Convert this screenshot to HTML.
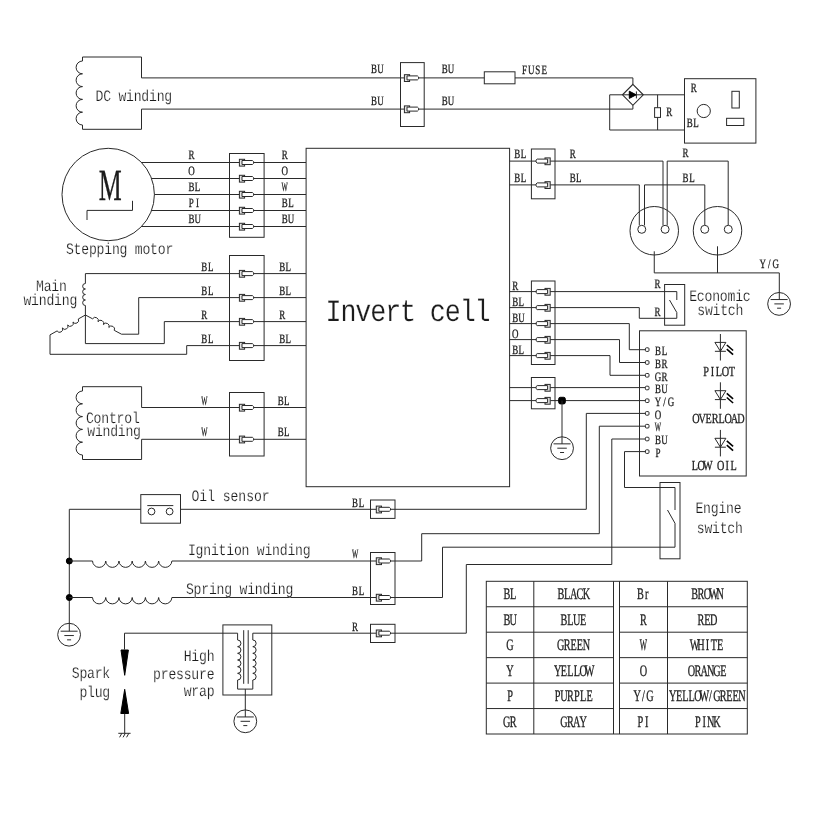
<!DOCTYPE html>
<html lang="en">
<head>
<meta charset="utf-8">
<title>Wiring diagram</title>
<style>
html,body{margin:0;padding:0;background:#fff;}
body{width:828px;height:828px;overflow:hidden;}
svg{display:block;will-change:transform;}
svg path,svg rect,svg circle{fill:none;stroke:#2a2a2a;stroke-width:1;}
svg .fill{fill:#000;stroke:#000;}
svg text{font-family:"Liberation Serif",serif;fill:#1c1c1c;text-anchor:middle;stroke:#1c1c1c;stroke-width:0.3px;text-rendering:geometricPrecision;}
svg text.m{font-family:"Liberation Mono",monospace;stroke:#fff;stroke-width:0.2px;}
</style>
</head>
<body>
<svg width="828" height="828" viewBox="0 0 828 828">
<rect x="0" y="0" width="828" height="828" style="fill:#fff;stroke:none"/>
<path d="M82.5,61V57H141.5V77.9H404.5" />
<path d="M82.5,125V129.3H141.5V109.1H404.5" />
<path d="M82.5,61a6.4,6.4 0 0 0 0,12.8a6.4,6.4 0 0 0 0,12.8a6.4,6.4 0 0 0 0,12.8a6.4,6.4 0 0 0 0,12.8a6.4,6.4 0 0 0 0,12.8" />
<text class="m" transform="scale(0.82,1)" x="121.25 130.58 139.9 149.23 158.56 167.89 177.22 186.55 195.88 205.21" y="101" font-size="16">DC winding</text>
<text transform="scale(0.7,1)" x="534.46 543.39" y="73.15" font-size="12.8">BU</text>
<text transform="scale(0.7,1)" x="534.46 543.39" y="105.15" font-size="12.8">BU</text>
<rect x="400.5" y="62.6" width="23.7" height="63.9" />
<g transform="translate(404.4,77.9)">
<rect x="0" y="-3.2" width="5.2" height="6.8" style="fill:#e4e4e4"/>
<path d="M2.6,-2H13L14.2,-0.9V0.9L13,2H2.6Z" style="fill:#fff"/>
</g>
<g transform="translate(404.4,109.1)">
<rect x="0" y="-3.2" width="5.2" height="6.8" style="fill:#e4e4e4"/>
<path d="M2.6,-2H13L14.2,-0.9V0.9L13,2H2.6Z" style="fill:#fff"/>
</g>
<path d="M418.5,77.9H484.3M515,77.9H632.9V84.3" />
<path d="M418.5,109.1H632.9V105.3" />
<rect x="484.3" y="71.8" width="30.7" height="12" />
<text transform="scale(0.7,1)" x="635.18 644.11" y="73.15" font-size="12.8">BU</text>
<text transform="scale(0.7,1)" x="635.18 644.11" y="105.15" font-size="12.8">BU</text>
<text transform="scale(0.7,1)" x="749.32 758.75 768.17 777.6" y="73.9" font-size="12.8">FUSE</text>
<path d="M632.9,84.3L643.3,94.8L632.9,105.3L622.5,94.8Z" style="stroke-width:1.15"/>
<path d="M623,94.8H643" />
<path d="M629.3,91.2L636.2,94.8L629.3,98.4Z" class="fill"/>
<path d="M636.4,91.4V98.4" />
<path d="M622.5,94.8H609.7V130H684.5" />
<path d="M643.3,94.8H684.5" />
<path d="M657.6,94.8V107.7M657.6,117.4V130" />
<rect x="654.6" y="107.7" width="5.9" height="9.7" />
<text transform="scale(0.7,1)" x="955.89" y="116.45" font-size="12.8">R</text>
<rect x="684.5" y="78.7" width="71.4" height="64.4" />
<text transform="scale(0.7,1)" x="991.18" y="92.25" font-size="12.8">R</text>
<text transform="scale(0.7,1)" x="985.18 994.11" y="127.45" font-size="12.8">BL</text>
<circle cx="703.75" cy="111" r="6.6" />
<rect x="731.9" y="91.3" width="7.4" height="16.7" />
<rect x="726.6" y="118.3" width="17.2" height="7.2" />
<circle cx="108.2" cy="194.5" r="46.2" />
<text transform="scale(0.58,1)" x="190.09" y="200" font-size="44.5">M</text>
<path d="M87,220V210.4H132.5V200.8" />
<path d="M141.52,162.5H239.5M253.7,162.5H306" />
<g transform="translate(239.4,162.5)">
<rect x="0" y="-3.2" width="5.2" height="6.8" style="fill:#e4e4e4"/>
<path d="M2.6,-2H13L14.2,-0.9V0.9L13,2H2.6Z" style="fill:#fff"/>
</g>
<text transform="scale(0.7,1)" x="273.39" y="159.15" font-size="12.8">R</text>
<text transform="scale(0.7,1)" x="406.61" y="159.15" font-size="12.8">R</text>
<path d="M151.54,178.5H239.5M253.7,178.5H306" />
<g transform="translate(239.4,178.5)">
<rect x="0" y="-3.2" width="5.2" height="6.8" style="fill:#e4e4e4"/>
<path d="M2.6,-2H13L14.2,-0.9V0.9L13,2H2.6Z" style="fill:#fff"/>
</g>
<text transform="scale(0.7,1)" x="273.39" y="175.15" font-size="12.8">O</text>
<text transform="scale(0.7,1)" x="406.61" y="175.15" font-size="12.8">O</text>
<path d="M154.4,194.5H239.5M253.7,194.5H306" />
<g transform="translate(239.4,194.5)">
<rect x="0" y="-3.2" width="5.2" height="6.8" style="fill:#e4e4e4"/>
<path d="M2.6,-2H13L14.2,-0.9V0.9L13,2H2.6Z" style="fill:#fff"/>
</g>
<text transform="scale(0.7,1)" x="273.39 282.32" y="191.15" font-size="12.8">BL</text>
<text transform="scale(0.52,1)" x="547.36" y="191.15" font-size="12.8">W</text>
<path d="M151.54,210.5H239.5M253.7,210.5H306" />
<g transform="translate(239.4,210.5)">
<rect x="0" y="-3.2" width="5.2" height="6.8" style="fill:#e4e4e4"/>
<path d="M2.6,-2H13L14.2,-0.9V0.9L13,2H2.6Z" style="fill:#fff"/>
</g>
<text transform="scale(0.7,1)" x="273.39 282.32" y="207.15" font-size="12.8">PI</text>
<text transform="scale(0.7,1)" x="406.61 415.54" y="207.15" font-size="12.8">BL</text>
<path d="M141.52,226.5H239.5M253.7,226.5H306" />
<g transform="translate(239.4,226.5)">
<rect x="0" y="-3.2" width="5.2" height="6.8" style="fill:#e4e4e4"/>
<path d="M2.6,-2H13L14.2,-0.9V0.9L13,2H2.6Z" style="fill:#fff"/>
</g>
<text transform="scale(0.7,1)" x="273.39 282.32" y="223.15" font-size="12.8">BU</text>
<text transform="scale(0.7,1)" x="406.61 415.54" y="223.15" font-size="12.8">BU</text>
<rect x="229.5" y="153.5" width="34.6" height="83.8" />
<text class="m" transform="scale(0.82,1)" x="85.27 94.6 103.93 113.26 122.59 131.92 141.25 150.58 159.9 169.23 178.56 187.89 197.22 206.55" y="254.25" font-size="16">Stepping motor</text>
<rect x="306.1" y="148.3" width="203.5" height="338.4" />
<text class="m" transform="scale(0.86,1)" x="387.85 405.18 422.5 439.83 457.15 474.48 491.8 509.13 526.46 543.78 561.11" y="320.8" font-size="31">Invert cell</text>
<path d="M85.4,283.5V273.6H239.5M253.7,273.6H306" />
<path d="M85.4,283.5a2.75,2.75 0 0 0 0,5.5a2.75,2.75 0 0 0 0,5.5a2.75,2.75 0 0 0 0,5.5a2.75,2.75 0 0 0 0,5.5" />
<path d="M85.4,305.5V343.6H164.3V321.6H239.5M253.7,321.6H306" />
<path d="M85.4,315L92.62,318.84" />
<path d="M92.62,318.84a3.07,3.07 0 0 1 5.41,2.88a3.07,3.07 0 0 1 5.41,2.88a3.07,3.07 0 0 1 5.41,2.88a3.07,3.07 0 0 1 5.41,2.88" />
<path d="M114.28,330.36L121.5,334.2H138.7V297.6H239.5M253.7,297.6H306" />
<path d="M85.4,315L78.32,318.98" />
<path d="M78.32,318.98a3.05,3.05 0 0 1 -5.31,2.98a3.05,3.05 0 0 1 -5.31,2.98a3.05,3.05 0 0 1 -5.31,2.98a3.05,3.05 0 0 1 -5.31,2.98" />
<path d="M57.08,330.92L50,334.9V354.3H186.7V345.6H239.5M253.7,345.6H306" />
<rect x="229.5" y="255.5" width="34.6" height="105" />
<g transform="translate(239.4,273.6)">
<rect x="0" y="-3.2" width="5.2" height="6.8" style="fill:#e4e4e4"/>
<path d="M2.6,-2H13L14.2,-0.9V0.9L13,2H2.6Z" style="fill:#fff"/>
</g>
<text transform="scale(0.7,1)" x="291.96 300.89" y="270.75" font-size="12.8">BL</text>
<text transform="scale(0.7,1)" x="403.04 411.96" y="270.75" font-size="12.8">BL</text>
<g transform="translate(239.4,297.6)">
<rect x="0" y="-3.2" width="5.2" height="6.8" style="fill:#e4e4e4"/>
<path d="M2.6,-2H13L14.2,-0.9V0.9L13,2H2.6Z" style="fill:#fff"/>
</g>
<text transform="scale(0.7,1)" x="291.96 300.89" y="294.75" font-size="12.8">BL</text>
<text transform="scale(0.7,1)" x="403.04 411.96" y="294.75" font-size="12.8">BL</text>
<g transform="translate(239.4,321.6)">
<rect x="0" y="-3.2" width="5.2" height="6.8" style="fill:#e4e4e4"/>
<path d="M2.6,-2H13L14.2,-0.9V0.9L13,2H2.6Z" style="fill:#fff"/>
</g>
<text transform="scale(0.7,1)" x="291.96" y="318.75" font-size="12.8">R</text>
<text transform="scale(0.7,1)" x="403.04" y="318.75" font-size="12.8">R</text>
<g transform="translate(239.4,345.6)">
<rect x="0" y="-3.2" width="5.2" height="6.8" style="fill:#e4e4e4"/>
<path d="M2.6,-2H13L14.2,-0.9V0.9L13,2H2.6Z" style="fill:#fff"/>
</g>
<text transform="scale(0.7,1)" x="291.96 300.89" y="342.75" font-size="12.8">BL</text>
<text transform="scale(0.7,1)" x="403.04 411.96" y="342.75" font-size="12.8">BL</text>
<text class="m" transform="scale(0.82,1)" x="48.69 58.01 67.34 76.67" y="291.25" font-size="16">Main</text>
<text class="m" transform="scale(0.82,1)" x="33.44 42.77 52.1 61.43 70.76 80.09 89.42" y="305" font-size="16">winding</text>
<path d="M82.5,391V386.7H141.6V407.5H239.5M253.7,407.5H306" />
<path d="M82.5,455V459.5H141.6V439.3H239.5M253.7,439.3H306" />
<path d="M82.5,391a6.4,6.4 0 0 0 0,12.8a6.4,6.4 0 0 0 0,12.8a6.4,6.4 0 0 0 0,12.8a6.4,6.4 0 0 0 0,12.8a6.4,6.4 0 0 0 0,12.8" />
<rect x="229.5" y="392.5" width="34.6" height="63.5" />
<g transform="translate(239.4,407.5)">
<rect x="0" y="-3.2" width="5.2" height="6.8" style="fill:#e4e4e4"/>
<path d="M2.6,-2H13L14.2,-0.9V0.9L13,2H2.6Z" style="fill:#fff"/>
</g>
<text transform="scale(0.52,1)" x="393.03" y="404.65" font-size="12.8">W</text>
<text transform="scale(0.7,1)" x="400.89 409.82" y="404.65" font-size="12.8">BL</text>
<g transform="translate(239.4,439.3)">
<rect x="0" y="-3.2" width="5.2" height="6.8" style="fill:#e4e4e4"/>
<path d="M2.6,-2H13L14.2,-0.9V0.9L13,2H2.6Z" style="fill:#fff"/>
</g>
<text transform="scale(0.52,1)" x="393.03" y="436.45" font-size="12.8">W</text>
<text transform="scale(0.7,1)" x="400.89 409.82" y="436.45" font-size="12.8">BL</text>
<text class="m" transform="scale(0.82,1)" x="109.66 118.99 128.32 137.65 146.98 156.31 165.64" y="423.2" font-size="16">Control</text>
<text class="m" transform="scale(0.82,1)" x="111.19 120.51 129.84 139.17 148.5 157.83 167.16" y="436.3" font-size="16">winding</text>
<path d="M69.3,631.2V509.3H140.8M180.5,509.3H376.3M390.5,509.3H586.3V413.4H645.6" />
<rect x="140.8" y="494.6" width="39.7" height="28.6" />
<path d="M147.3,505.6H173.3" />
<circle cx="151.5" cy="511.5" r="3.4" />
<circle cx="169.6" cy="511.5" r="3.4" />
<text class="m" transform="scale(0.82,1)" x="238.41 247.92 257.43 266.94 276.46 285.97 295.48 304.99 314.5 324.02" y="501" font-size="16">Oil sensor</text>
<text transform="scale(0.7,1)" x="507.32 516.25" y="506.95" font-size="12.8">BL</text>
<rect x="370.5" y="500" width="24.5" height="18.4" />
<g transform="translate(376.3,509.3)">
<rect x="0" y="-3.2" width="5.2" height="6.8" style="fill:#e4e4e4"/>
<path d="M2.6,-2H13L14.2,-0.9V0.9L13,2H2.6Z" style="fill:#fff"/>
</g>
<circle cx="69.3" cy="561" r="3" class="fill"/>
<circle cx="69.3" cy="597.5" r="3" class="fill"/>
<path d="M69.3,561H92.5M171.9,561H376.3M390.5,561H421.7V533.7H599.3V426.2H645.6" />
<path d="M92.5,561a6.62,6.62 0 0 0 13.23,0a6.62,6.62 0 0 0 13.23,0a6.62,6.62 0 0 0 13.23,0a6.62,6.62 0 0 0 13.23,0a6.62,6.62 0 0 0 13.23,0a6.62,6.62 0 0 0 13.23,0" />
<path d="M69.3,597.5H92.5M171.9,597.5H376.3M390.5,597.5H442.5V547.2H675V523.3" />
<path d="M92.5,597.5a6.62,6.62 0 0 0 13.23,0a6.62,6.62 0 0 0 13.23,0a6.62,6.62 0 0 0 13.23,0a6.62,6.62 0 0 0 13.23,0a6.62,6.62 0 0 0 13.23,0a6.62,6.62 0 0 0 13.23,0" />
<text class="m" transform="scale(0.82,1)" x="234.05 243.38 252.71 262.04 271.37 280.7 290.03 299.36 308.69 318.01 327.34 336.67 346 355.33 364.66 373.99" y="555" font-size="16">Ignition winding</text>
<text class="m" transform="scale(0.82,1)" x="231.61 240.94 250.27 259.6 268.93 278.26 287.59 296.92 306.25 315.58 324.9 334.23 343.56 352.89" y="594.25" font-size="16">Spring winding</text>
<text transform="scale(0.52,1)" x="682.93" y="558.4" font-size="12.8">W</text>
<text transform="scale(0.7,1)" x="507.32 516.25" y="594.65" font-size="12.8">BL</text>
<rect x="370.5" y="552.5" width="24.5" height="52" />
<g transform="translate(376.3,561)">
<rect x="0" y="-3.2" width="5.2" height="6.8" style="fill:#e4e4e4"/>
<path d="M2.6,-2H13L14.2,-0.9V0.9L13,2H2.6Z" style="fill:#fff"/>
</g>
<g transform="translate(376.3,597.5)">
<rect x="0" y="-3.2" width="5.2" height="6.8" style="fill:#e4e4e4"/>
<path d="M2.6,-2H13L14.2,-0.9V0.9L13,2H2.6Z" style="fill:#fff"/>
</g>
<circle cx="69.1" cy="634.7" r="11.4" />
<path d="M60.6,631.2L77.6,631.2" />
<path d="M64.35,635.55L73.85,635.55" />
<path d="M67.1,639.85L71.1,639.85" />
<path d="M124.5,649.5V633.2H237.6V640" />
<path d="M252.8,640V633.2H376.3M390.5,633.2H466.3V564.5H611.8V439H645.6" />
<rect x="370.5" y="624.3" width="24.5" height="18.2" />
<g transform="translate(376.3,633.2)">
<rect x="0" y="-3.2" width="5.2" height="6.8" style="fill:#e4e4e4"/>
<path d="M2.6,-2H13L14.2,-0.9V0.9L13,2H2.6Z" style="fill:#fff"/>
</g>
<text transform="scale(0.7,1)" x="507.32" y="630.9" font-size="12.8">R</text>
<path d="M121,650H128.4L124.7,675.3Z" class="fill"/>
<path d="M124.7,689.3L128.6,713.5H120.8Z" class="fill"/>
<path d="M124.7,713.7V733.3M118.3,733.3H130.6M121.8,733.3L119.6,737.3M125.3,733.3L123.1,737.3M128.8,733.3L126.6,737.3" />
<text class="m" transform="scale(0.82,1)" x="92.29 101.62 110.95 120.27 129.6" y="678" font-size="16">Spark</text>
<text class="m" transform="scale(0.82,1)" x="101.62 110.95 120.27 129.6" y="696.75" font-size="16">plug</text>
<rect x="222.9" y="624.9" width="48.9" height="70.1" />
<path d="M237.6,640a3.33,3.33 0 0 1 0,6.67a3.33,3.33 0 0 1 0,6.67a3.33,3.33 0 0 1 0,6.67a3.33,3.33 0 0 1 0,6.67a3.33,3.33 0 0 1 0,6.67a3.33,3.33 0 0 1 0,6.67" />
<path d="M252.8,640a3.33,3.33 0 0 1 0,6.67a3.33,3.33 0 0 1 0,6.67a3.33,3.33 0 0 1 0,6.67a3.33,3.33 0 0 1 0,6.67a3.33,3.33 0 0 1 0,6.67a3.33,3.33 0 0 1 0,6.67" />
<path d="M237.6,680V689.1H252.8V680" />
<path d="M243.7,630.2V683.8M248.2,630.2V683.8" />
<path d="M245.3,689.1V717" />
<circle cx="245.3" cy="721.3" r="11.4" />
<path d="M236.8,716.95L253.8,716.95" />
<path d="M240.55,721.3L250.05,721.3" />
<path d="M243.3,725.6L247.3,725.6" />
<text class="m" transform="scale(0.82,1)" x="228.81 238.14 247.47 256.8" y="661.1" font-size="16">High</text>
<text class="m" transform="scale(0.82,1)" x="191.49 200.82 210.15 219.48 228.81 238.14 247.47 256.8" y="678.7" font-size="16">pressure</text>
<text class="m" transform="scale(0.82,1)" x="228.81 238.14 247.47 256.8" y="696.1" font-size="16">wrap</text>
<rect x="531.4" y="149" width="23.6" height="49.8" />
<path d="M509.6,161.1H536.6M550.2,161.1H663V225.3M667.2,225.3V161.1H728.2V225" />
<path d="M509.6,184.9H536.6M550.2,184.9H639.3V225.3M644.5,225.3V184.9H704.8V225" />
<g transform="translate(550.2,161.1) scale(-1,1)">
<rect x="0" y="-3.2" width="5.2" height="6.8" style="fill:#e4e4e4"/>
<path d="M2.6,-2H13L14.2,-0.9V0.9L13,2H2.6Z" style="fill:#fff"/>
</g>
<g transform="translate(550.2,184.9) scale(-1,1)">
<rect x="0" y="-3.2" width="5.2" height="6.8" style="fill:#e4e4e4"/>
<path d="M2.6,-2H13L14.2,-0.9V0.9L13,2H2.6Z" style="fill:#fff"/>
</g>
<text transform="scale(0.7,1)" x="738.75 747.68" y="157.65" font-size="12.8">BL</text>
<text transform="scale(0.7,1)" x="738.75 747.68" y="181.65" font-size="12.8">BL</text>
<text transform="scale(0.7,1)" x="818.04" y="157.65" font-size="12.8">R</text>
<text transform="scale(0.7,1)" x="818.04 826.96" y="181.65" font-size="12.8">BL</text>
<text transform="scale(0.7,1)" x="979.46" y="157.25" font-size="12.8">R</text>
<text transform="scale(0.7,1)" x="979.46 988.39" y="181.65" font-size="12.8">BL</text>
<circle cx="654.25" cy="230.75" r="24.25" />
<circle cx="717.5" cy="230.75" r="24.25" />
<circle cx="641.75" cy="229.3" r="4" />
<circle cx="665.1" cy="229.3" r="4" />
<circle cx="704.75" cy="229.3" r="4" />
<circle cx="728.25" cy="229.3" r="4" />
<path d="M654.25,251.3V272.9H779.3V299.5M717.5,246.3V272.9" />
<text transform="scale(0.7,1)" x="1089.61 1098.9 1108.19" y="267.65" font-size="12.8">Y/G</text>
<circle cx="779.1" cy="303.9" r="11.4" />
<path d="M770.6,299.55L787.6,299.55" />
<path d="M774.35,303.9L783.85,303.9" />
<path d="M777.1,308.2L781.1,308.2" />
<rect x="531.4" y="281" width="23.6" height="83.5" />
<g transform="translate(550.2,291.6) scale(-1,1)">
<rect x="0" y="-3.2" width="5.2" height="6.8" style="fill:#e4e4e4"/>
<path d="M2.6,-2H13L14.2,-0.9V0.9L13,2H2.6Z" style="fill:#fff"/>
</g>
<text transform="scale(0.7,1)" x="735.89" y="289.75" font-size="12.8">R</text>
<g transform="translate(550.2,307.6) scale(-1,1)">
<rect x="0" y="-3.2" width="5.2" height="6.8" style="fill:#e4e4e4"/>
<path d="M2.6,-2H13L14.2,-0.9V0.9L13,2H2.6Z" style="fill:#fff"/>
</g>
<text transform="scale(0.7,1)" x="735.89 744.82" y="305.75" font-size="12.8">BL</text>
<g transform="translate(550.2,323.6) scale(-1,1)">
<rect x="0" y="-3.2" width="5.2" height="6.8" style="fill:#e4e4e4"/>
<path d="M2.6,-2H13L14.2,-0.9V0.9L13,2H2.6Z" style="fill:#fff"/>
</g>
<text transform="scale(0.7,1)" x="735.89 744.82" y="321.75" font-size="12.8">BU</text>
<g transform="translate(550.2,339.6) scale(-1,1)">
<rect x="0" y="-3.2" width="5.2" height="6.8" style="fill:#e4e4e4"/>
<path d="M2.6,-2H13L14.2,-0.9V0.9L13,2H2.6Z" style="fill:#fff"/>
</g>
<text transform="scale(0.7,1)" x="735.89" y="337.75" font-size="12.8">O</text>
<g transform="translate(550.2,355.6) scale(-1,1)">
<rect x="0" y="-3.2" width="5.2" height="6.8" style="fill:#e4e4e4"/>
<path d="M2.6,-2H13L14.2,-0.9V0.9L13,2H2.6Z" style="fill:#fff"/>
</g>
<text transform="scale(0.7,1)" x="735.89 744.82" y="353.75" font-size="12.8">BL</text>
<path d="M509.6,291.6H536.6M550.2,291.6H676.8V300" />
<path d="M669.5,300L676.8,312.5V318.3H639.3V307.6H550.2M536.6,307.6H509.6" />
<path d="M509.6,323.6H536.6M550.2,323.6H629.3V349.7H645.6" />
<path d="M509.6,339.6H536.6M550.2,339.6H619.5V362.5H645.6" />
<path d="M509.6,355.6H536.6M550.2,355.6H610V375.3H645.6" />
<rect x="664.6" y="284.5" width="20.1" height="40.7" />
<text transform="scale(0.7,1)" x="939.46" y="288.4" font-size="12.8">R</text>
<text transform="scale(0.7,1)" x="939.46" y="315.9" font-size="12.8">R</text>
<text class="m" transform="scale(0.82,1)" x="845.33 854.66 863.99 873.32 882.65 891.98 901.31 910.64" y="301.25" font-size="16">Economic</text>
<text class="m" transform="scale(0.82,1)" x="855.09 864.42 873.75 883.08 892.4 901.73" y="314.7" font-size="16">switch</text>
<rect x="531.4" y="377.5" width="23.6" height="31.3" />
<path d="M509.6,387.6H536.6M550.2,387.6H645.6" />
<path d="M509.6,400.6H536.6M550.2,400.6H645.6" />
<g transform="translate(550.2,387.6) scale(-1,1)">
<rect x="0" y="-3.2" width="5.2" height="6.8" style="fill:#e4e4e4"/>
<path d="M2.6,-2H13L14.2,-0.9V0.9L13,2H2.6Z" style="fill:#fff"/>
</g>
<g transform="translate(550.2,400.6) scale(-1,1)">
<rect x="0" y="-3.2" width="5.2" height="6.8" style="fill:#e4e4e4"/>
<path d="M2.6,-2H13L14.2,-0.9V0.9L13,2H2.6Z" style="fill:#fff"/>
</g>
<rect x="558.7" y="397.3" width="6.6" height="6.6" rx="1.6" class="fill"/>
<path d="M562,400.6V443.9" />
<circle cx="562.05" cy="448.2" r="11.4" />
<path d="M553.55,443.85L570.55,443.85" />
<path d="M557.3,448.2L566.8,448.2" />
<path d="M560.05,452.5L564.05,452.5" />
<rect x="639.5" y="330.8" width="106.7" height="145.2" />
<rect x="645.4" y="347.8" width="3.6" height="3.6" rx="1" style="fill:#fff"/>
<text transform="scale(0.7,1)" x="940.01 949.23" y="354.55" font-size="12.8">BL</text>
<rect x="645.4" y="360.7" width="3.6" height="3.6" rx="1" style="fill:#fff"/>
<text transform="scale(0.7,1)" x="940.01 949.23" y="367.75" font-size="12.8">BR</text>
<rect x="645.4" y="373.5" width="3.6" height="3.6" rx="1" style="fill:#fff"/>
<text transform="scale(0.7,1)" x="940.01 949.23" y="380.55" font-size="12.8">GR</text>
<rect x="645.4" y="386.2" width="3.6" height="3.6" rx="1" style="fill:#fff"/>
<text transform="scale(0.7,1)" x="940.01 949.23" y="393.25" font-size="12.8">BU</text>
<rect x="645.4" y="398.9" width="3.6" height="3.6" rx="1" style="fill:#fff"/>
<text transform="scale(0.7,1)" x="940.01 949.23 958.44" y="405.95" font-size="12.8">Y/G</text>
<rect x="645.4" y="411.6" width="3.6" height="3.6" rx="1" style="fill:#fff"/>
<text transform="scale(0.7,1)" x="940.01" y="418.65" font-size="12.8">O</text>
<rect x="645.4" y="424.4" width="3.6" height="3.6" rx="1" style="fill:#fff"/>
<text transform="scale(0.52,1)" x="1265.4" y="431.45" font-size="12.8">W</text>
<rect x="645.4" y="437.2" width="3.6" height="3.6" rx="1" style="fill:#fff"/>
<text transform="scale(0.7,1)" x="940.01 949.23" y="444.25" font-size="12.8">BU</text>
<rect x="645.4" y="449.8" width="3.6" height="3.6" rx="1" style="fill:#fff"/>
<text transform="scale(0.7,1)" x="940.01" y="456.85" font-size="12.8">P</text>
<path d="M645.6,451.6H624.5V487.5H675V510" />
<path d="M667.5,510L675,523.3" />
<path d="M720.4,334V360.5" />
<path d="M714.9,342.4H725.9L720.4,351.3Z" />
<path d="M714.9,351.3H725.9" />
<path d="M726.8,345L733.1,350.5" style="stroke-width:1.6;stroke:#000"/>
<path d="M726.8,349.2L733.1,354.7" style="stroke-width:1.6;stroke:#000"/>
<path d="M720.4,382.3V408.8" />
<path d="M714.9,390.7H725.9L720.4,399.6Z" />
<path d="M714.9,399.6H725.9" />
<path d="M726.8,393.3L733.1,398.8" style="stroke-width:1.6;stroke:#000"/>
<path d="M726.8,397.5L733.1,403" style="stroke-width:1.6;stroke:#000"/>
<path d="M720.4,429.9V456.4" />
<path d="M714.9,438.3H725.9L720.4,447.2Z" />
<path d="M714.9,447.2H725.9" />
<path d="M726.8,440.9L733.1,446.4" style="stroke-width:1.6;stroke:#000"/>
<path d="M726.8,445.1L733.1,450.6" style="stroke-width:1.6;stroke:#000"/>
<text transform="scale(0.74,1)" x="954.19 962.91 971.62 980.34 989.05" y="375.6" font-size="13.8">PILOT</text>
<text transform="scale(0.74,1)" x="940.3 949.02 957.74 966.45 975.17 983.89 992.6 1001.32" y="423.1" font-size="13.8">OVERLOAD</text>
<text transform="scale(0.74,1)" x="938.99 947.7 956.42 965.14 973.85 982.57 991.28" y="470.3" font-size="13.8">LOW OIL</text>
<rect x="660" y="482.5" width="20" height="76.3" />
<text class="m" transform="scale(0.82,1)" x="852.95 862.28 871.61 880.94 890.27 899.6" y="513" font-size="16">Engine</text>
<text class="m" transform="scale(0.82,1)" x="854.48 863.81 873.14 882.47 891.8 901.12" y="533" font-size="16">switch</text>
<rect x="486.3" y="581.3" width="261" height="152.7" />
<path d="M486.3,606.75H613.5M619.5,606.75H747.3" />
<path d="M486.3,632.2H613.5M619.5,632.2H747.3" />
<path d="M486.3,657.65H613.5M619.5,657.65H747.3" />
<path d="M486.3,683.1H613.5M619.5,683.1H747.3" />
<path d="M486.3,708.55H613.5M619.5,708.55H747.3" />
<path d="M533.8,581.3V734M613.5,581.3V734M619.5,581.3V734M667.5,581.3V734" />
<text transform="scale(0.64,1)" x="791.88 801.88" y="599.2" font-size="16">BL</text>
<text transform="scale(0.64,1)" x="876.25 886.25 896.25 906.25 916.25" y="599.2" font-size="16">BLACK</text>
<text transform="scale(0.64,1)" x="1000.47 1010.47" y="599.2" font-size="16">Br</text>
<text transform="scale(0.64,1)" x="1085.31 1095.31 1105.31 1115.31 1125.31" y="599.2" font-size="16">BROWN</text>
<text transform="scale(0.64,1)" x="791.88 801.88" y="624.7" font-size="16">BU</text>
<text transform="scale(0.64,1)" x="881.25 891.25 901.25 911.25" y="624.7" font-size="16">BLUE</text>
<text transform="scale(0.64,1)" x="1005.47" y="624.7" font-size="16">R</text>
<text transform="scale(0.64,1)" x="1095.31 1105.31 1115.31" y="624.7" font-size="16">RED</text>
<text transform="scale(0.64,1)" x="796.88" y="650.2" font-size="16">G</text>
<text transform="scale(0.64,1)" x="876.25 886.25 896.25 906.25 916.25" y="650.2" font-size="16">GREEN</text>
<text transform="scale(0.48,1)" x="1340.62" y="650.2" font-size="16">W</text>
<text transform="scale(0.64,1)" x="1085.31 1095.31 1105.31 1115.31 1125.31" y="650.2" font-size="16">WHITE</text>
<text transform="scale(0.64,1)" x="796.88" y="675.7" font-size="16">Y</text>
<text transform="scale(0.64,1)" x="871.25 881.25 891.25 901.25 911.25 921.25" y="675.7" font-size="16">YELLOW</text>
<text transform="scale(0.64,1)" x="1005.47" y="675.7" font-size="16">O</text>
<text transform="scale(0.64,1)" x="1080.31 1090.31 1100.31 1110.31 1120.31 1130.31" y="675.7" font-size="16">ORANGE</text>
<text transform="scale(0.64,1)" x="796.88" y="701.2" font-size="16">P</text>
<text transform="scale(0.64,1)" x="871.25 881.25 891.25 901.25 911.25 921.25" y="701.2" font-size="16">PURPLE</text>
<text transform="scale(0.64,1)" x="995.47 1005.47 1015.47" y="701.2" font-size="16">Y/G</text>
<text transform="scale(0.64,1)" x="1051.17 1061.02 1070.86 1080.7 1090.55 1100.39 1110.23 1120.08 1129.92 1139.77 1149.61 1159.45" y="701.2" font-size="16">YELLOW/GREEN</text>
<text transform="scale(0.64,1)" x="791.88 801.88" y="726.7" font-size="16">GR</text>
<text transform="scale(0.64,1)" x="881.25 891.25 901.25 911.25" y="726.7" font-size="16">GRAY</text>
<text transform="scale(0.64,1)" x="1000.47 1010.47" y="726.7" font-size="16">PI</text>
<text transform="scale(0.64,1)" x="1090.31 1100.31 1110.31 1120.31" y="726.7" font-size="16">PINK</text>
</svg>
</body>
</html>
